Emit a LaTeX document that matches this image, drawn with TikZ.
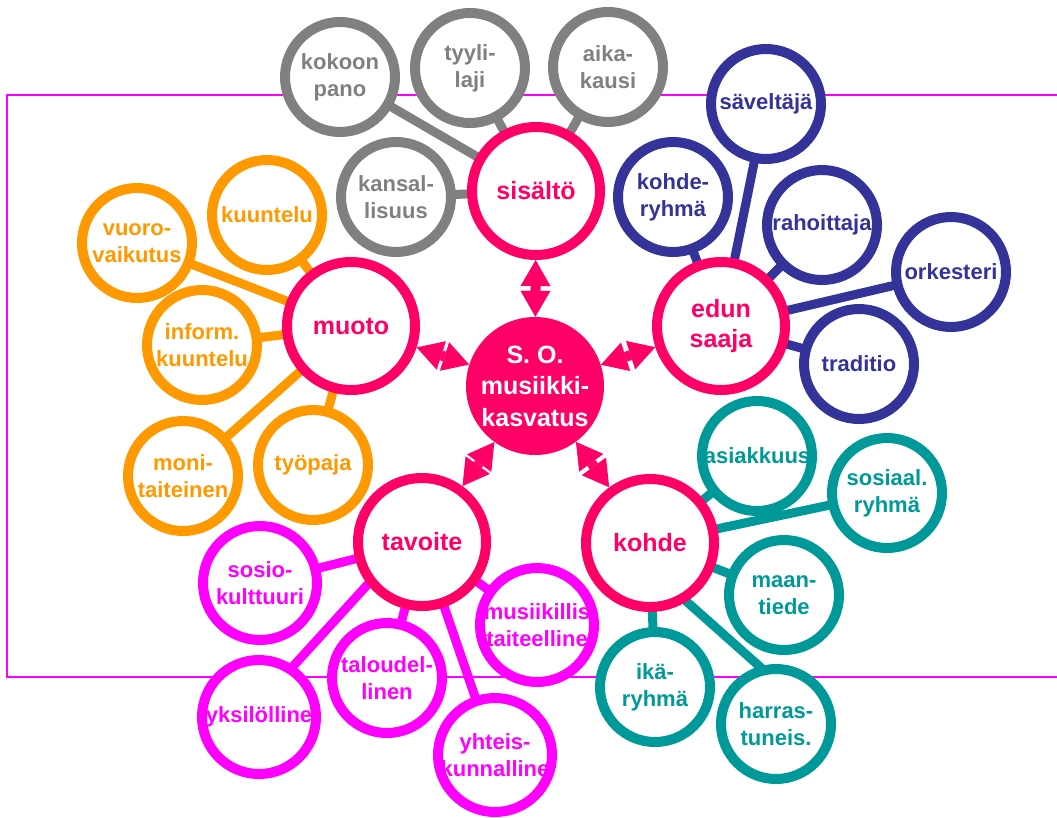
\documentclass[tikz,border=0pt]{standalone}
\usepackage{fontspec}
\setmainfont{Liberation Sans}
\usetikzlibrary{arrows.meta,backgrounds}

\definecolor{pinkc}{HTML}{FF0066}
\definecolor{grayc}{HTML}{808080}
\definecolor{bluec}{HTML}{333399}
\definecolor{orangec}{HTML}{FF9900}
\definecolor{magc}{HTML}{FF00FF}
\definecolor{tealc}{HTML}{009999}

\tikzset{
  hub/.style={circle, draw=pinkc, fill=white, line width=10pt, minimum size=128pt, inner sep=-40pt,
    text=pinkc, font=\fontsize{25}{30}\selectfont\bfseries, align=center},
  leaf/.style={circle, draw=#1, fill=white, line width=10pt, minimum size=110pt, inner sep=-40pt,
    text=#1, font=\fontsize{22}{27}\selectfont\bfseries, align=center},
  bigleaf/.style={leaf=#1, minimum size=114pt},
  spoke/.style={draw=#1, line width=9pt, shorten <=-6pt, shorten >=-6pt},
  dblarrow/.style={draw=pinkc, line width=10pt,
    {Triangle[length=26pt,width=30pt,line width=0pt]}-{Triangle[length=26pt,width=30pt,line width=0pt]}}
}

\begin{document}
\begin{tikzpicture}[x=1pt,y=-1pt]
\useasboundingbox (0,0) rectangle (1057,817);

\node[circle, fill=pinkc, minimum size=138pt, inner sep=-40pt, text=white,
  font=\fontsize{25}{31.5}\selectfont\bfseries, align=center] (core) at (535,386) {S. O.\\musiikki-\\kasvatus};

\node[hub] (sis) at (536,191) {sisältö};
\node[hub] (muoto) at (351,326) {muoto};
\node[hub] (edun) at (721,326) {edun\\saaja};
\node[hub] (tav) at (422,542) {tavoite};
\node[hub] (kohde) at (650,543) {kohde};

\node[leaf=grayc] (kokoon) at (340,77) {kokoon\\pano};
\node[leaf=grayc] (tyyli) at (470,68) {tyyli-\\laji};
\node[leaf=grayc] (aika) at (608,67) {aika-\\kausi};
\node[leaf=grayc] (kansal) at (396,197) {kansal-\\lisuus};

\node[leaf=bluec] (savel) at (766,104) {säveltäjä};
\node[leaf=bluec] (kryhma) at (673,197) {kohde-\\ryhmä};
\node[leaf=bluec] (rahoit) at (822,225) {rahoittaja};
\node[leaf=bluec] (orkest) at (951,272) {orkesteri};
\node[leaf=bluec] (trad) at (859,364) {traditio};

\node[leaf=orangec] (kuunt) at (267,215) {kuuntelu};
\node[leaf=orangec] (vuoro) at (137,243) {vuoro-\\vaikutus};
\node[leaf=orangec] (inform) at (202,345) {inform.\\kuuntelu};
\node[leaf=orangec] (moni) at (183,476) {moni-\\taiteinen};
\node[leaf=orangec] (tyopaja) at (313,465) {työpaja};

\node[bigleaf=magc] (sosio) at (260,583) {sosio-\\kulttuuri};
\node[leaf=magc] (talous) at (387,678) {taloudel-\\linen};
\node[bigleaf=magc] (yksil) at (259,717) {yksilölline};
\node[bigleaf=magc] (musiik) at (537,625) {musiikillis\\taiteelline};
\node[bigleaf=magc] (yhteis) at (495,755) {yhteis-\\kunnalline};

\node[leaf=tealc] (asiak) at (757,456) {asiakkuus};
\node[leaf=tealc] (sosiaal) at (887,493) {sosiaal.\\ryhmä};
\node[leaf=tealc] (maan) at (784,595) {maan-\\tiede};
\node[leaf=tealc] (ika) at (655,687) {ikä-\\ryhmä};
\node[leaf=tealc] (harras) at (776,724) {harras-\\tuneis.};

\draw[dblarrow] (core) -- (sis);
\draw[dblarrow] (core) -- (muoto);
\draw[dblarrow] (core) -- (edun);
\draw[dblarrow] (core) -- (tav);
\draw[dblarrow] (core) -- (kohde);

\begin{scope}[on background layer]
\draw[magc, line width=2pt] (1057,95) -- (7,95) -- (7,677) -- (1057,677);

\foreach \leafname in {kokoon,tyyli,aika,kansal}
  \draw[spoke=grayc] (sis) -- (\leafname);
\foreach \leafname in {savel,kryhma,rahoit,orkest,trad}
  \draw[spoke=bluec] (edun) -- (\leafname);
\foreach \leafname in {kuunt,vuoro,inform,moni,tyopaja}
  \draw[spoke=orangec] (muoto) -- (\leafname);
\foreach \leafname in {sosio,talous,musiik,yhteis}
  \draw[spoke=magc] (tav) -- (\leafname);
\draw[spoke=magc] (tav.218) -- (yksil.56);
\foreach \leafname in {asiak,sosiaal,maan,ika}
  \draw[spoke=tealc] (kohde) -- (\leafname);
\draw[spoke=tealc] (kohde.-58) -- (harras.106);
\end{scope}
\end{tikzpicture}
\end{document}
